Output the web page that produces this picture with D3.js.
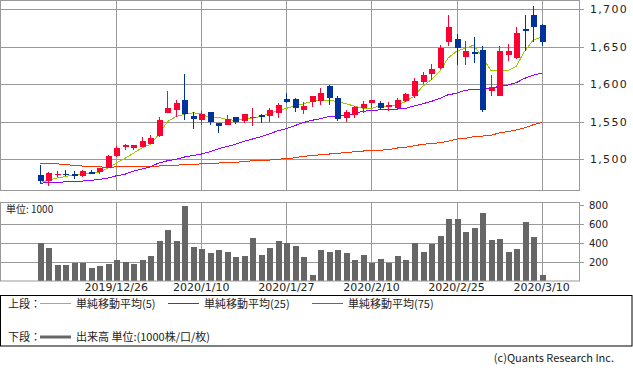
<!DOCTYPE html>
<html>
<head>
<meta charset="utf-8">
<script src="https://cdn.jsdelivr.net/npm/d3@7"></script>
<style>
body { margin: 0; background: #fff; }
text { font-family: "DejaVu Sans", sans-serif; fill: #222; }
.jp { font-family: "Noto Sans CJK JP", sans-serif; }
</style>
</head>
<body>
<svg width="633" height="372"></svg>
<script>
// daily prices (index 0 .. 59)
const open = [1479,1471,1480,1481,1480,1478,1483,1483,1489,1504,
  1516,1515,1516,1520,1531,1562,1566,1579,1558,1552,
  1563,1549,1546,1556,1551,1556,1559,1558,1562,1580,
  1581,1566,1576,1578,1598,1582,1555,1559,1569,1575,
  1575,1570,1569,1578,1584,1603,1614,1622,1656,1661,
  1637,1643,1646,1591,1584,1639,1635,1674,1692,1679];
const close = [1471,1482,1481,1480,1479,1484,1482,1489,1504,1515,
  1519,1519,1524,1529,1552,1569,1575,1560,1554,1560,
  1550,1544,1554,1550,1560,1557,1556,1566,1572,1576,
  1568,1571,1584,1588,1582,1554,1563,1570,1574,1579,
  1569,1573,1579,1587,1604,1612,1620,1649,1676,1649,
  1644,1642,1566,1596,1645,1644,1669,1671,1676,1657];
const high = [1492,1483,1484,1486,1484,1486,1486,1489,1506,1518,
  1521,1519,1530,1533,1557,1591,1579,1614,1563,1564,
  1563,1549,1559,1557,1561,1568,1561,1568,1575,1588,
  1582,1577,1584,1595,1599,1584,1566,1571,1578,1579,
  1578,1576,1582,1589,1608,1616,1627,1652,1692,1667,
  1658,1663,1651,1612,1651,1654,1676,1692,1704,1681];
const low = [1469,1465,1477,1478,1474,1477,1480,1481,1488,1503,
  1512,1512,1516,1520,1530,1562,1557,1553,1541,1546,
  1546,1535,1546,1547,1549,1545,1549,1550,1555,1575,
  1563,1560,1570,1572,1573,1551,1550,1555,1562,1569,
  1566,1564,1568,1576,1582,1601,1606,1621,1651,1626,
  1626,1628,1563,1585,1584,1631,1634,1644,1657,1651];

// moving averages as drawn
const ma5 = [1469,1472,1475,1477,1479,1480,1481,1483,1488,1495,
  1501,1508,1515,1520,1533,1550,1557,1560,1562,1561,
  1555,1556,1553,1552,1553,1555,1557,1561,1565,1568,
  1571,1574,1577,1579,1579,1577,1574,1571,1568,1568,
  1571,1571,1572,1577,1584,1597,1606,1617,1635,1644,
  1648,1652,1637,1619,1618,1618,1624,1644,1659,1663];
const ma25 = [1468,1469,1469,1470,1470,1471,1472,1473,1475,1478,
  1480,1484,1487,1490,1495,1498,1500,1503,1505,1507,
  1510,1514,1517,1520,1524,1527,1530,1534,1538,1541,
  1545,1549,1552,1554,1557,1558,1559,1561,1564,1565,
  1566,1566,1567,1568,1571,1574,1577,1581,1586,1588,
  1592,1593,1593,1595,1597,1599,1602,1608,1612,1615];
const ma75 = [1494,1494,1494,1493,1492,1491,1491,1490,1489,1490,
  1490,1491,1491,1491,1491,1492,1492,1493,1493,1494,
  1495,1495,1496,1496,1497,1498,1498,1499,1500,1501,
  1502,1504,1505,1506,1507,1508,1509,1510,1511,1512,
  1512,1513,1515,1516,1518,1520,1521,1522,1524,1527,
  1528,1530,1531,1532,1535,1537,1539,1542,1546,1549];

// volume (1000 shares)
const volume = [403,351,168,168,193,193,140,158,179,221,
  200,179,221,263,421,537,421,782,358,337,
  298,326,305,253,263,453,274,347,421,397,
  368,253,63,326,305,326,295,221,274,193,
  232,193,263,221,400,305,390,474,653,653,
  516,558,716,432,442,305,337,621,463,63];

const tickIdx = [9, 19, 29, 39, 49, 59];
const tickLabels = ["2019/12/26", "2020/1/10", "2020/1/27", "2020/2/10", "2020/2/25", "2020/3/10"];
const priceTicks = [1500, 1550, 1600, 1650, 1700];
const volTicks = [200, 400, 600, 800];

const svg = d3.select('svg');
const gridColor = '#999';
const upColor = '#ff0033', downColor = '#003399';

const x = d3.scaleLinear().domain([-4.5, 63.5]).range([1.4, 579.9]);
const y = d3.scaleLinear().domain([1500, 1700]).range([159.3, 9.3]);
const yv = d3.scaleLinear().domain([0, 800]).range([281, 204.7]);

const plot = { left: 0.5, right: 579.5, top: 0.5, bottom: 190.5 };
const vplot = { top: 202.5, bottom: 281 };

// ---- price panel grid
svg.append('g').selectAll('line')
  .data(priceTicks).enter().append('line')
  .attr('x1', plot.left).attr('x2', 584)
  .attr('y1', d => Math.round(y(d)) + 0.5).attr('y2', d => Math.round(y(d)) + 0.5)
  .attr('stroke', gridColor);

svg.append('g').selectAll('line')
  .data(tickIdx).enter().append('line')
  .attr('x1', d => Math.round(x(d)) + 0.5).attr('x2', d => Math.round(x(d)) + 0.5)
  .attr('y1', plot.top).attr('y2', plot.bottom)
  .attr('stroke', gridColor);

svg.append('rect')
  .attr('x', plot.left).attr('y', plot.top)
  .attr('width', plot.right - plot.left).attr('height', plot.bottom - plot.top)
  .attr('fill', 'none').attr('stroke', gridColor);

svg.append('g').selectAll('text')
  .data(priceTicks).enter().append('text')
  .attr('x', 590).attr('y', d => y(d) + 4)
  .attr('font-size', 11).attr('letter-spacing', 1.3)
  .text(d => d3.format(',')(d));

// ---- moving averages
const line = arr => d3.line().x((d, i) => x(i)).y(d => y(d))(arr);
[[ma75, '#ff3300'], [ma25, '#9900ff'], [ma5, '#99cc00']].forEach(([arr, c]) => {
  svg.append('path')
    .attr('d', line(arr))
    .attr('fill', 'none')
    .attr('stroke', c)
    .attr('stroke-width', 1)
    .attr('shape-rendering', 'crispEdges');
});

// ---- candles
const candles = svg.append('g').selectAll('g')
  .data(open.map((o, i) => ({ i, o, c: close[i], h: high[i], l: low[i] })))
  .enter().append('g')
  .attr('shape-rendering', 'crispEdges');

candles.append('line')
  .attr('x1', d => Math.round(x(d.i)) + 0.5).attr('x2', d => Math.round(x(d.i)) + 0.5)
  .attr('y1', d => y(d.h)).attr('y2', d => y(d.l))
  .attr('stroke', d => d.c >= d.o ? upColor : downColor);

candles.append('rect')
  .attr('x', d => Math.round(x(d.i)) - 2.5)
  .attr('width', 6)
  .attr('y', d => y(Math.max(d.o, d.c)))
  .attr('height', d => Math.max(1.5, Math.abs(y(d.o) - y(d.c))))
  .attr('fill', d => d.c >= d.o ? upColor : downColor);

// ---- volume panel
svg.append('g').selectAll('line')
  .data(volTicks).enter().append('line')
  .attr('x1', d => d === 800 ? plot.right : plot.left).attr('x2', 584)
  .attr('y1', d => Math.round(yv(d)) + 0.5).attr('y2', d => Math.round(yv(d)) + 0.5)
  .attr('stroke', gridColor);

svg.append('g').selectAll('line')
  .data(tickIdx).enter().append('line')
  .attr('x1', d => Math.round(x(d)) + 0.5).attr('x2', d => Math.round(x(d)) + 0.5)
  .attr('y1', vplot.top).attr('y2', vplot.bottom)
  .attr('stroke', gridColor);

svg.append('g').selectAll('rect')
  .data(volume).enter().append('rect')
  .attr('x', (d, i) => Math.round(x(i)) - 2.5)
  .attr('width', 6)
  .attr('y', d => yv(d))
  .attr('height', d => yv(0) - yv(d))
  .attr('fill', '#666')
  .attr('shape-rendering', 'crispEdges');

svg.append('rect')
  .attr('x', plot.left).attr('y', vplot.top)
  .attr('width', plot.right - plot.left).attr('height', vplot.bottom - vplot.top)
  .attr('fill', 'none').attr('stroke', gridColor);

svg.append('g').selectAll('text')
  .data(volTicks).enter().append('text')
  .attr('x', 589).attr('y', d => yv(d) + 4)
  .attr('font-size', 10)
  .text(d => d);

svg.append('text').attr('class', 'jp')
  .attr('x', 6).attr('y', 213).attr('font-size', 10)
  .text('単位: 1000');

// date labels
svg.append('g').selectAll('text')
  .data(tickIdx).enter().append('text')
  .attr('x', d => x(d)).attr('y', 291)
  .attr('text-anchor', 'middle').attr('font-size', 11)
  .text((d, i) => tickLabels[i]);

// ---- legend
svg.append('rect')
  .attr('x', 0.5).attr('y', 295.5).attr('width', 631.5).attr('height', 50.5)
  .attr('fill', 'none').attr('stroke', '#000');

const legend = [
  { x: 40, c: '#99cc00', t: '単純移動平均(5)' },
  { x: 168, c: '#9900ff', t: '単純移動平均(25)' },
  { x: 312, c: '#ff3300', t: '単純移動平均(75)' }
];
svg.append('text').attr('class', 'jp').attr('x', 8).attr('y', 307.5).attr('font-size', 11).attr('fill', '#000').text('上段：');
legend.forEach(l => {
  svg.append('line').attr('x1', l.x).attr('x2', l.x + 31).attr('y1', 303.5).attr('y2', 303.5).attr('stroke', l.c);
  svg.append('text').attr('class', 'jp').attr('x', l.x + 36).attr('y', 307.5).attr('font-size', 11).text(l.t);
});
svg.append('text').attr('class', 'jp').attr('x', 8).attr('y', 341).attr('font-size', 11).text('下段：');
svg.append('line').attr('x1', 40).attr('x2', 71).attr('y1', 337).attr('y2', 337).attr('stroke', '#666').attr('stroke-width', 3);
svg.append('text').attr('class', 'jp').attr('x', 76).attr('y', 341).attr('font-size', 11).text('出来高 単位:(1000株/口/枚)');

svg.append('text').attr('class', 'jp')
  .attr('x', 614).attr('y', 362).attr('text-anchor', 'end').attr('font-size', 11)
  .attr('fill', '#444')
  .text('(c)Quants Research Inc.');
</script>
</body>
</html>
